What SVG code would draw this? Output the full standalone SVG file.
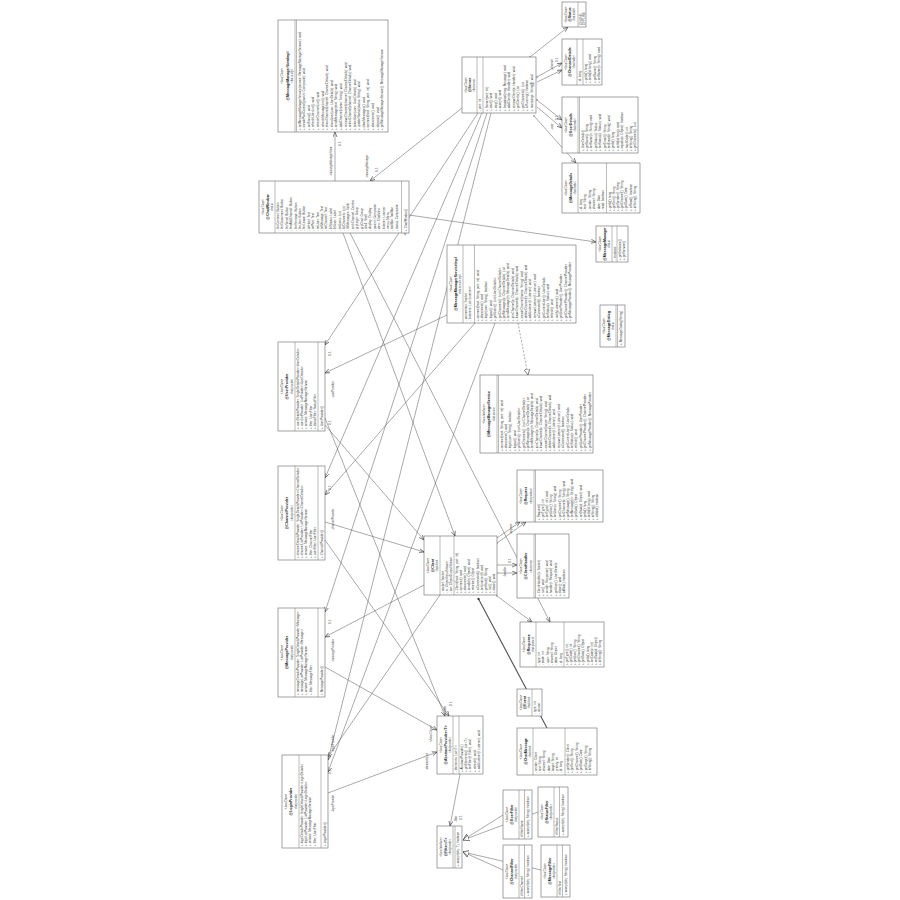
<svg xmlns="http://www.w3.org/2000/svg" width="900" height="900" viewBox="0 0 900 900" font-family="'Liberation Sans', Arial, sans-serif">
<style>
.box{fill:#fff;stroke:#666;stroke-width:0.6}
.sep{stroke:#777;stroke-width:0.5}
text{font-family:"Liberation Sans",Arial,sans-serif;fill:#444}
.st{font-size:2.6px;text-anchor:middle}
.nm{font-size:3.6px;font-weight:bold;text-anchor:middle;fill:#222}
.ln{font-size:3.1px}
.lb{font-size:2.8px;fill:#444}
.c path{stroke:#555;stroke-width:0.5;fill:none}
.dash{stroke-dasharray:2 1.5}
.thick{stroke-width:1.1 !important}
</style>
<defs>
<marker id="arr" viewBox="0 0 10 10" refX="10" refY="5" markerWidth="5" markerHeight="5" markerUnits="userSpaceOnUse" orient="auto"><path d="M0,1 L10,5 L0,9" fill="none" stroke="#333" stroke-width="1.2"/></marker>
<marker id="tri" viewBox="0 0 10 10" refX="10" refY="5" markerWidth="6" markerHeight="6" markerUnits="userSpaceOnUse" orient="auto"><path d="M0,0 L10,5 L0,10 Z" fill="#fff" stroke="#333" stroke-width="1"/></marker>
<marker id="dot" viewBox="0 0 10 10" refX="5" refY="5" markerWidth="2.5" markerHeight="2.5" markerUnits="userSpaceOnUse" orient="auto"><circle cx="5" cy="5" r="4" fill="#fff" stroke="#333" stroke-width="1.4"/></marker>
<marker id="dia" viewBox="0 0 10 10" refX="1" refY="5" markerWidth="3" markerHeight="3" markerUnits="userSpaceOnUse" orient="auto"><path d="M1,5 L5,1.5 L9,5 L5,8.5 Z" fill="#333" stroke="#333"/></marker>
</defs>
<rect width="900" height="900" fill="#fff"/>

<g id="connectors" class="c">
<path d="M335,181 L335,132" marker-end="url(#arr)"/>
<path d="M462,108 L370,181" marker-end="url(#arr)"/>
<path d="M409,215 L596,242" marker-end="url(#arr)"/>
<path d="M478,113 L325,345" marker-end="url(#arr)"/>
<path d="M447,315 L325,373" marker-end="url(#arr)"/>
<path d="M482,113 L325,478" marker-end="url(#arr)"/>
<path d="M475,323 L325,495" marker-end="url(#arr)"/>
<path d="M487,113 L325,612" marker-end="url(#arr)"/>
<path d="M491,113 L328,760" marker-end="url(#arr)"/>
<path d="M495,323 L328,772" marker-end="url(#arr)"/>
<path class="dash" d="M518,323 L528,375" marker-end="url(#tri)"/>
<path d="M343,233 L455,536" marker-end="url(#arr)"/>
<path d="M350,233 L550,622" marker-end="url(#arr)"/>
<path d="M325,418 L445,716" marker-end="url(#arr)"/>
<path d="M325,425 L424,540" marker-end="url(#arr)"/>
<path d="M325,522 L424,552" marker-end="url(#arr)"/>
<path d="M424,585 L325,637" marker-end="url(#arr)"/>
<path d="M325,667 L437,730" marker-end="url(#arr)"/>
<path d="M440,595 L328,757" marker-end="url(#arr)"/>
<path d="M328,793 L437,752" marker-end="url(#arr)"/>
<path d="M325,540 L449,716" marker-end="url(#arr)"/>
<path d="M537,77 L562,63" marker-start="url(#dot)" marker-end="url(#arr)"/>
<path d="M537,82 L562,70" marker-end="url(#arr)"/>
<path d="M537,100 L562,120" marker-start="url(#dot)" marker-end="url(#arr)"/>
<path d="M537,107 L562,128" marker-end="url(#arr)"/>
<path d="M530,57 L568,27" marker-start="url(#dot)" marker-end="url(#arr)"/>
<path d="M534,116 L576,163" marker-start="url(#dot)" marker-end="url(#arr)"/>
<path d="M497,538 L520,522" marker-end="url(#arr)"/>
<path d="M497,543 L526,522" marker-start="url(#dot)" marker-end="url(#arr)"/>
<path d="M497,565 L517,565" marker-end="url(#arr)"/>
<path d="M497,573 L517,573" marker-start="url(#dot)" marker-end="url(#arr)"/>
<path d="M497,596 L532,622" marker-start="url(#dot)" marker-end="url(#arr)"/>
<path class="thick" d="M478,598 L547,728" marker-start="url(#dia)"/>
<path d="M460,774 L450,826" marker-end="url(#arr)"/>
<path d="M503,815 L463,840" marker-end="url(#tri)"/>
<path d="M538,812 L463,840" marker-end="url(#tri)"/>
<path d="M503,870 L463,852" marker-end="url(#tri)"/>
<path d="M541,870 L463,852" marker-end="url(#tri)"/>
</g>

<g id="labels">
<text class="lb" transform="translate(332,176) rotate(-90)">-messageManagerView</text>
<text class="lb" transform="translate(341,146) rotate(-90)">0..1</text>
<text class="lb" transform="translate(368,178) rotate(-90)">-messageManager</text>
<text class="lb" transform="translate(378,172) rotate(-90)">0..1</text>
<text class="lb" transform="translate(406,236) rotate(-90)">-service</text>
<text class="lb" transform="translate(331,356) rotate(-90)">0..1</text>
<text class="lb" transform="translate(334,398) rotate(-90)">-userProvider</text>
<text class="lb" transform="translate(331,425) rotate(-90)">0..1</text>
<text class="lb" transform="translate(331,490) rotate(-90)">0..1</text>
<text class="lb" transform="translate(334,530) rotate(-90)">-channelProvider</text>
<text class="lb" transform="translate(331,624) rotate(-90)">0..1</text>
<text class="lb" transform="translate(334,662) rotate(-90)">-messageProvider</text>
<text class="lb" transform="translate(334,752) rotate(-90)">-loginProvider</text>
<text class="lb" transform="translate(331,774) rotate(-90)">0..1</text>
<text class="lb" transform="translate(334,812) rotate(-90)">-loginProvider</text>
<text class="lb" transform="translate(432,742) rotate(-90)">«Java Class»</text>
<text class="lb" transform="translate(428,770) rotate(-90)">-elementsList</text>
<text class="lb" transform="translate(446,712) rotate(-90)">-filter</text>
<text class="lb" transform="translate(452,706) rotate(-90)">0..1</text>
<text class="lb" transform="translate(457,822) rotate(-90)">-filter</text>
<text class="lb" transform="translate(462,820) rotate(-90)">0..1</text>
<text class="lb" transform="translate(553,70) rotate(-90)">-channel</text>
<text class="lb" transform="translate(558,62) rotate(-90)">0..1</text>
<text class="lb" transform="translate(553,130) rotate(-90)">-user</text>
<text class="lb" transform="translate(558,120) rotate(-90)">0..1</text>
<text class="lb" transform="translate(512,534) rotate(-90)">-request</text>
<text class="lb" transform="translate(506,577) rotate(-90)">-handler</text>
<text class="lb" transform="translate(511,563) rotate(-90)">0..1</text>
</g>

<g id="n1" transform="translate(278,132) rotate(-90)">
<rect class="box" width="112" height="110"/>
<line class="sep" x1="0" y1="17" x2="112" y2="17"/><line class="sep" x1="0" y1="18.5" x2="112" y2="18.5"/>
<text class="st" x="56" y="5">«Java Class»</text><text class="nm" x="56" y="10.5">@MessageManagerViewImpl</text><text class="st" x="56" y="14.5">chat.ui.impl</text>
<text class="ln" x="2" y="22.5"><tspan x="2">+ setMessageManagerService(service: MessageManagerService): void</tspan><tspan x="2" dy="4.6">+ createPartControl(parent: Composite): void</tspan><tspan x="2" dy="4.6">+ setFocus(): void</tspan><tspan x="2" dy="4.6">+ refreshUserList(): void</tspan><tspan x="2" dy="4.6">+ refreshChannelList(): void</tspan><tspan x="2" dy="4.6">+ refreshMessageList(): void</tspan><tspan x="2" dy="4.6">+ showChannel(channel: ChannelDetails): void</tspan><tspan x="2" dy="4.6">+ showUser(user: UserDetails): void</tspan><tspan x="2" dy="4.6">+ sendMessage(text: String): void</tspan><tspan x="2" dy="4.6">+ addChannel(name: String): void</tspan><tspan x="2" dy="4.6">+ removeChannel(channel: ChannelDetails): void</tspan><tspan x="2" dy="4.6">+ selectChannel(channel: ChannelDetails): void</tspan><tspan x="2" dy="4.6">+ selectUser(user: UserDetails): void</tspan><tspan x="2" dy="4.6">+ updateStatus(status: String): void</tspan><tspan x="2" dy="4.6">+ clearMessages(): void</tspan><tspan x="2" dy="4.6">+ connect(host: String, port: int): void</tspan><tspan x="2" dy="4.6">+ disconnect(): void</tspan><tspan x="2" dy="4.6">+ dispose(): void</tspan><tspan x="2" dy="4.6">+ getMessageManagerService(): MessageManagerService</tspan></text>
</g>

<g id="n2" transform="translate(259,233) rotate(-90)">
<rect class="box" width="52" height="150"/>
<line class="sep" x1="0" y1="16" x2="52" y2="16"/><line class="sep" x1="0" y1="142.5" x2="52" y2="142.5"/>
<text class="st" x="26" y="4.5">«Java Class»</text><text class="nm" x="26" y="9.5">@ChatWindow</text><text class="st" x="26" y="13.5">chat.ui</text>
<text class="ln" x="2" y="20"><tspan x="2">- btnConnect: Button</tspan><tspan x="2" dy="4.4">- btnDisconnect: Button</tspan><tspan x="2" dy="4.4">- btnSend: Button</tspan><tspan x="2" dy="4.4">- btnAddChannel: Button</tspan><tspan x="2" dy="4.4">- btnRemove: Button</tspan><tspan x="2" dy="4.4">- btnJoin: Button</tspan><tspan x="2" dy="4.4">- btnLeave: Button</tspan><tspan x="2" dy="4.4">- txtHost: Text</tspan><tspan x="2" dy="4.4">- txtPort: Text</tspan><tspan x="2" dy="4.4">- txtUser: Text</tspan><tspan x="2" dy="4.4">- txtMessage: Text</tspan><tspan x="2" dy="4.4">- txtChannel: Text</tspan><tspan x="2" dy="4.4">- lblStatus: Label</tspan><tspan x="2" dy="4.4">- lblUser: Label</tspan><tspan x="2" dy="4.4">- lstUsers: List</tspan><tspan x="2" dy="4.4">- lstChannels: List</tspan><tspan x="2" dy="4.4">- tblMessages: Table</tspan><tspan x="2" dy="4.4">- cmbChannel: Combo</tspan><tspan x="2" dy="4.4">- grpLogin: Group</tspan><tspan x="2" dy="4.4">- grpChat: Group</tspan><tspan x="2" dy="4.4">- shell: Shell</tspan><tspan x="2" dy="4.4">- display: Display</tspan><tspan x="2" dy="4.4">- parent: Composite</tspan><tspan x="2" dy="4.4">- view: ChatView</tspan><tspan x="2" dy="4.4">- listener: Listener</tspan><tspan x="2" dy="4.4">- menu: Menu</tspan><tspan x="2" dy="4.4">- toolBar: ToolBar</tspan><tspan x="2" dy="4.4">- status: Composite</tspan></text>
<text class="ln" x="2" y="147.5">+ ChatWindow()</text>
</g>

<g id="n3" transform="translate(462,113) rotate(-90)">
<rect class="box" width="56" height="74"/>
<line class="sep" x1="0" y1="15" x2="56" y2="15"/><line class="sep" x1="0" y1="21" x2="56" y2="21"/>
<text class="st" x="28" y="4.5">«Java Class»</text><text class="nm" x="28" y="9">@Server</text><text class="st" x="28" y="13">chat.server</text>
<text class="ln" x="2" y="19.3">- port: int</text>
<text class="ln" x="2" y="25.5"><tspan x="2">+ Server(port: int)</tspan><tspan x="2" dy="4.5">+ start(): void</tspan><tspan x="2" dy="4.5">+ stop(): void</tspan><tspan x="2" dy="4.5">+ accept(): void</tspan><tspan x="2" dy="4.5">+ broadcast(msg: Message): void</tspan><tspan x="2" dy="4.5">+ addClient(c: Handler): void</tspan><tspan x="2" dy="4.5">+ removeClient(c: Handler): void</tspan><tspan x="2" dy="4.5">+ getClients(): List</tspan><tspan x="2" dy="4.5">+ getChannels(): List</tspan><tspan x="2" dy="4.5">+ isRunning(): boolean</tspan><tspan x="2" dy="4.5">+ main(args: String[]): void</tspan></text>
</g>

<g id="n4" transform="translate(562,27) rotate(-90)">
<rect class="box" width="25" height="24"/>
<line class="sep" x1="0" y1="16" x2="25" y2="16"/>
<text class="st" x="12.5" y="4.5">«Java Enum»</text><text class="nm" x="12.5" y="9">@Status</text><text class="st" x="12.5" y="13">chat.model</text>
<text class="ln" x="2" y="19.5"><tspan x="2">ONLINE</tspan><tspan x="2" dy="3.4">OFFLINE</tspan></text>
</g>

<g id="n5" transform="translate(562,85) rotate(-90)">
<rect class="box" width="46" height="40"/>
<line class="sep" x1="0" y1="15" x2="46" y2="15"/><line class="sep" x1="0" y1="21" x2="46" y2="21"/>
<text class="st" x="23" y="4.5">«Java Class»</text><text class="nm" x="23" y="9">@ChannelDetails</text><text class="st" x="23" y="13">chat.model</text>
<text class="ln" x="2" y="19.2">- id: long</text>
<text class="ln" x="2" y="25"><tspan x="2">+ getId(): long</tspan><tspan x="2" dy="4.3">+ setId(id: long): void</tspan><tspan x="2" dy="4.3">+ getName(): String</tspan><tspan x="2" dy="4.3">+ setName(n: String): void</tspan></text>
</g>

<g id="n6" transform="translate(562,153) rotate(-90)">
<rect class="box" width="56" height="76"/>
<line class="sep" x1="0" y1="16" x2="56" y2="16"/><line class="sep" x1="0" y1="17.5" x2="56" y2="17.5"/>
<text class="st" x="28" y="4.5">«Java Class»</text><text class="nm" x="28" y="9.5">@UserDetails</text><text class="st" x="28" y="13.5">chat.model</text>
<text class="ln" x="2" y="21.5"><tspan x="2">+ UserDetails()</tspan><tspan x="2" dy="4.4">+ getName(): String</tspan><tspan x="2" dy="4.4">+ setName(n: String): void</tspan><tspan x="2" dy="4.4">+ getStatus(): Status</tspan><tspan x="2" dy="4.4">+ setStatus(s: Status): void</tspan><tspan x="2" dy="4.4">+ getEmail(): String</tspan><tspan x="2" dy="4.4">+ setEmail(e: String): void</tspan><tspan x="2" dy="4.4">+ getId(): long</tspan><tspan x="2" dy="4.4">+ setId(id: long): void</tspan><tspan x="2" dy="4.4">+ equals(o: Object): boolean</tspan><tspan x="2" dy="4.4">+ hashCode(): int</tspan><tspan x="2" dy="4.4">+ toString(): String</tspan><tspan x="2" dy="4.4">+ getChannels(): List</tspan></text>
</g>

<g id="n7" transform="translate(562,213) rotate(-90)">
<rect class="box" width="50" height="78"/>
<line class="sep" x1="0" y1="16" x2="50" y2="16"/><line class="sep" x1="0" y1="44.5" x2="50" y2="44.5"/>
<text class="st" x="25" y="4.5">«Java Class»</text><text class="nm" x="25" y="9.5">@MessageDetails</text><text class="st" x="25" y="13.5">chat.model</text>
<text class="ln" x="2" y="20"><tspan x="2">- id: long</tspan><tspan x="2" dy="4.4">- text: String</tspan><tspan x="2" dy="4.4">- sender: String</tspan><tspan x="2" dy="4.4">- channel: String</tspan><tspan x="2" dy="4.4">- date: Date</tspan><tspan x="2" dy="4.4">- read: boolean</tspan></text>
<text class="ln" x="2" y="48.5"><tspan x="2">+ getId(): long</tspan><tspan x="2" dy="4.2">+ getText(): String</tspan><tspan x="2" dy="4.2">+ getSender(): String</tspan><tspan x="2" dy="4.2">+ getChannel(): String</tspan><tspan x="2" dy="4.2">+ getDate(): Date</tspan><tspan x="2" dy="4.2">+ isRead(): boolean</tspan><tspan x="2" dy="4.2">+ toString(): String</tspan></text>
</g>

<g id="n8" transform="translate(596,262) rotate(-90)">
<rect class="box" width="36" height="32"/>
<line class="sep" x1="0" y1="16" x2="36" y2="16"/><line class="sep" x1="0" y1="21" x2="36" y2="21"/>
<text class="st" x="18" y="4.5">«Java Class»</text><text class="nm" x="18" y="9.5">@MessageManager</text><text class="st" x="18" y="13.5">chat.ui</text>
<text class="ln" x="2" y="19.5">- instance</text>
<text class="ln" x="2" y="25"><tspan x="2">+ getInstance()</tspan><tspan x="2" dy="4">+ getService()</tspan></text>
</g>

<g id="n9" transform="translate(600,347) rotate(-90)">
<rect class="box" width="42" height="25"/>
<line class="sep" x1="0" y1="16" x2="42" y2="16"/><line class="sep" x1="0" y1="17.5" x2="42" y2="17.5"/>
<text class="st" x="21" y="4.5">«Java Class»</text><text class="nm" x="21" y="9.5">@MessageDialog</text><text class="st" x="21" y="13.5">chat.ui</text>
<text class="ln" x="2" y="22">+ MessageDialog(String)</text>
</g>

<g id="n10" transform="translate(447,323) rotate(-90)">
<rect class="box" width="78" height="129"/>
<line class="sep" x1="0" y1="16" x2="78" y2="16"/><line class="sep" x1="0" y1="27.5" x2="78" y2="27.5"/>
<text class="st" x="39" y="4.5">«Java Class»</text><text class="nm" x="39" y="9.5">@MessageManagerServiceImpl</text><text class="st" x="39" y="13.5">chat.service.impl</text>
<text class="ln" x="2" y="20"><tspan x="2">- connection: Socket</tspan><tspan x="2" dy="4.4">- listeners: List&lt;Listener&gt;</tspan></text>
<text class="ln" x="2" y="31.5"><tspan x="2">+ connect(host: String, port: int): void</tspan><tspan x="2" dy="4.4">+ disconnect(): void</tspan><tspan x="2" dy="4.4">+ login(user: String): boolean</tspan><tspan x="2" dy="4.4">+ logout(): void</tspan><tspan x="2" dy="4.4">+ getUsers(): List&lt;UserDetails&gt;</tspan><tspan x="2" dy="4.4">+ getChannels(): List&lt;ChannelDetails&gt;</tspan><tspan x="2" dy="4.4">+ getMessages(c: ChannelDetails): List</tspan><tspan x="2" dy="4.4">+ sendMessage(m: MessageDetails): void</tspan><tspan x="2" dy="4.4">+ joinChannel(c: ChannelDetails): void</tspan><tspan x="2" dy="4.4">+ leaveChannel(c: ChannelDetails): void</tspan><tspan x="2" dy="4.4">+ createChannel(name: String): void</tspan><tspan x="2" dy="4.4">+ deleteChannel(c: ChannelDetails): void</tspan><tspan x="2" dy="4.4">+ addListener(l: Listener): void</tspan><tspan x="2" dy="4.4">+ removeListener(l: Listener): void</tspan><tspan x="2" dy="4.4">+ isConnected(): boolean</tspan><tspan x="2" dy="4.4">+ getCurrentUser(): UserDetails</tspan><tspan x="2" dy="4.4">+ setStatus(s: Status): void</tspan><tspan x="2" dy="4.4">+ refresh(): void</tspan><tspan x="2" dy="4.4">+ notifyListeners(): void</tspan><tspan x="2" dy="4.4">+ getUserProvider(): UserProvider</tspan><tspan x="2" dy="4.4">+ getChannelProvider(): ChannelProvider</tspan><tspan x="2" dy="4.4">+ getMessageProvider(): MessageProvider</tspan></text>
</g>

<g id="n11" transform="translate(480,453) rotate(-90)">
<rect class="box" width="78" height="113"/>
<line class="sep" x1="0" y1="17" x2="78" y2="17"/><line class="sep" x1="0" y1="18.5" x2="78" y2="18.5"/>
<text class="st" x="39" y="4.5">«Java Interface»</text><text class="nm" x="39" y="10">@MessageManagerService</text><text class="st" x="39" y="14.5">chat.service</text>
<text class="ln" x="2" y="22.5"><tspan x="2">+ connect(host: String, port: int): void</tspan><tspan x="2" dy="4.4">+ disconnect(): void</tspan><tspan x="2" dy="4.4">+ login(user: String): boolean</tspan><tspan x="2" dy="4.4">+ logout(): void</tspan><tspan x="2" dy="4.4">+ getUsers(): List&lt;UserDetails&gt;</tspan><tspan x="2" dy="4.4">+ getChannels(): List&lt;ChannelDetails&gt;</tspan><tspan x="2" dy="4.4">+ getMessages(c: ChannelDetails): List</tspan><tspan x="2" dy="4.4">+ sendMessage(m: MessageDetails): void</tspan><tspan x="2" dy="4.4">+ joinChannel(c: ChannelDetails): void</tspan><tspan x="2" dy="4.4">+ leaveChannel(c: ChannelDetails): void</tspan><tspan x="2" dy="4.4">+ createChannel(name: String): void</tspan><tspan x="2" dy="4.4">+ deleteChannel(c: ChannelDetails): void</tspan><tspan x="2" dy="4.4">+ addListener(l: Listener): void</tspan><tspan x="2" dy="4.4">+ removeListener(l: Listener): void</tspan><tspan x="2" dy="4.4">+ isConnected(): boolean</tspan><tspan x="2" dy="4.4">+ getCurrentUser(): UserDetails</tspan><tspan x="2" dy="4.4">+ setStatus(s: Status): void</tspan><tspan x="2" dy="4.4">+ refresh(): void</tspan><tspan x="2" dy="4.4">+ getUserProvider(): UserProvider</tspan><tspan x="2" dy="4.4">+ getChannelProvider(): ChannelProvider</tspan><tspan x="2" dy="4.4">+ getMessageProvider(): MessageProvider</tspan></text>
</g>

<g id="n12" transform="translate(424,595) rotate(-90)">
<rect class="box" width="59" height="73"/>
<line class="sep" x1="0" y1="16" x2="59" y2="16"/><line class="sep" x1="0" y1="30" x2="59" y2="30"/>
<text class="st" x="29.5" y="4.5">«Java Class»</text><text class="nm" x="29.5" y="9.5">@Client</text><text class="st" x="29.5" y="13.5">chat.client</text>
<text class="ln" x="2" y="20"><tspan x="2">- socket: Socket</tspan><tspan x="2" dy="4.2">- in: ObjectInputStream</tspan><tspan x="2" dy="4.2">- out: ObjectOutputStream</tspan></text>
<text class="ln" x="2" y="34"><tspan x="2">+ Client(host: String, port: int)</tspan><tspan x="2" dy="4.1">+ connect(): void</tspan><tspan x="2" dy="4.1">+ disconnect(): void</tspan><tspan x="2" dy="4.1">+ send(obj: Object): void</tspan><tspan x="2" dy="4.1">+ receive(): Object</tspan><tspan x="2" dy="4.1">+ isConnected(): boolean</tspan><tspan x="2" dy="4.1">+ setListener(l): void</tspan><tspan x="2" dy="4.1">+ getHost(): String</tspan><tspan x="2" dy="4.1">+ run(): void</tspan><tspan x="2" dy="4.1">+ close(): void</tspan></text>
</g>

<g id="n13" transform="translate(517,522) rotate(-90)">
<rect class="box" width="52" height="86"/>
<line class="sep" x1="0" y1="17" x2="52" y2="17"/><line class="sep" x1="0" y1="18.5" x2="52" y2="18.5"/>
<text class="st" x="26" y="4.5">«Java Class»</text><text class="nm" x="26" y="10">@Request</text><text class="st" x="26" y="14.5">chat.protocol</text>
<text class="ln" x="2" y="22.5"><tspan x="2">+ Request()</tspan><tspan x="2" dy="4.2">+ getType(): int</tspan><tspan x="2" dy="4.2">+ setType(t: int): void</tspan><tspan x="2" dy="4.2">+ getUser(): String</tspan><tspan x="2" dy="4.2">+ setUser(u: String): void</tspan><tspan x="2" dy="4.2">+ getChannel(): String</tspan><tspan x="2" dy="4.2">+ setChannel(c: String): void</tspan><tspan x="2" dy="4.2">+ getMessage(): String</tspan><tspan x="2" dy="4.2">+ setMessage(m: String): void</tspan><tspan x="2" dy="4.2">+ getData(): Object</tspan><tspan x="2" dy="4.2">+ setData(d: Object): void</tspan><tspan x="2" dy="4.2">+ getId(): long</tspan><tspan x="2" dy="4.2">+ setId(id: long): void</tspan><tspan x="2" dy="4.2">+ toString(): String</tspan><tspan x="2" dy="4.2">+ isValid(): boolean</tspan></text>
</g>

<g id="n14" transform="translate(517,598) rotate(-90)">
<rect class="box" width="64" height="52"/>
<line class="sep" x1="0" y1="17" x2="64" y2="17"/><line class="sep" x1="0" y1="18.5" x2="64" y2="18.5"/>
<text class="st" x="32" y="4.5">«Java Class»</text><text class="nm" x="32" y="10">@ClientHandler</text><text class="st" x="32" y="14.5">chat.server</text>
<text class="ln" x="2" y="22.5"><tspan x="2">+ ClientHandler(s: Socket)</tspan><tspan x="2" dy="4.3">+ run(): void</tspan><tspan x="2" dy="4.3">+ send(r: Response): void</tspan><tspan x="2" dy="4.3">+ handle(r: Request): void</tspan><tspan x="2" dy="4.3">+ getUser(): UserDetails</tspan><tspan x="2" dy="4.3">+ close(): void</tspan><tspan x="2" dy="4.3">+ isAlive(): boolean</tspan></text>
</g>

<g id="n15" transform="translate(520,667) rotate(-90)">
<rect class="box" width="45" height="84"/>
<line class="sep" x1="0" y1="16" x2="45" y2="16"/><line class="sep" x1="0" y1="44" x2="45" y2="44"/>
<text class="st" x="22.5" y="4.5">«Java Class»</text><text class="nm" x="22.5" y="9.5">@Response</text><text class="st" x="22.5" y="13.5">chat.protocol</text>
<text class="ln" x="2" y="20"><tspan x="2">- type: int</tspan><tspan x="2" dy="4.3">- code: int</tspan><tspan x="2" dy="4.3">- user: String</tspan><tspan x="2" dy="4.3">- channel: String</tspan><tspan x="2" dy="4.3">- data: Object</tspan><tspan x="2" dy="4.3">- id: long</tspan></text>
<text class="ln" x="2" y="48"><tspan x="2">+ getType(): int</tspan><tspan x="2" dy="4.1">+ getCode(): int</tspan><tspan x="2" dy="4.1">+ getUser(): String</tspan><tspan x="2" dy="4.1">+ getChannel(): String</tspan><tspan x="2" dy="4.1">+ getData(): Object</tspan><tspan x="2" dy="4.1">+ getId(): long</tspan><tspan x="2" dy="4.1">+ setCode(c: int)</tspan><tspan x="2" dy="4.1">+ setData(d: Object)</tspan><tspan x="2" dy="4.1">+ toString(): String</tspan></text>
</g>

<g id="n16" transform="translate(517,716) rotate(-90)">
<rect class="box" width="27" height="25"/>
<line class="sep" x1="0" y1="15" x2="27" y2="15"/>
<text class="st" x="13.5" y="4.5">«Java Class»</text><text class="nm" x="13.5" y="9">@Event</text><text class="st" x="13.5" y="13">chat.client</text>
<text class="ln" x="2" y="19"><tspan x="2">- type: int</tspan><tspan x="2" dy="4">- source</tspan></text>
</g>

<g id="n17" transform="translate(517,775) rotate(-90)">
<rect class="box" width="47" height="80"/>
<line class="sep" x1="0" y1="16" x2="47" y2="16"/><line class="sep" x1="0" y1="48" x2="47" y2="48"/>
<text class="st" x="23.5" y="4.5">«Java Class»</text><text class="nm" x="23.5" y="9.5">@ChatMessage</text><text class="st" x="23.5" y="13.5">chat.client</text>
<text class="ln" x="2" y="20"><tspan x="2">- sender: Client</tspan><tspan x="2" dy="4.2">- text: String</tspan><tspan x="2" dy="4.2">- channel: String</tspan><tspan x="2" dy="4.2">- date: Date</tspan><tspan x="2" dy="4.2">- target: String</tspan><tspan x="2" dy="4.2">- priority: int</tspan><tspan x="2" dy="4.2">- id: long</tspan></text>
<text class="ln" x="2" y="52"><tspan x="2">+ getSender(): Client</tspan><tspan x="2" dy="4.4">+ getText(): String</tspan><tspan x="2" dy="4.4">+ getChannel(): String</tspan><tspan x="2" dy="4.4">+ getDate(): Date</tspan><tspan x="2" dy="4.4">+ getTarget(): String</tspan><tspan x="2" dy="4.4">+ toString(): String</tspan></text>
</g>

<g id="n18" transform="translate(437,774) rotate(-90)">
<rect class="box" width="58" height="46"/>
<line class="sep" x1="0" y1="16" x2="58" y2="16"/><line class="sep" x1="0" y1="22" x2="58" y2="22"/>
<text class="st" x="29" y="4.5">«Java Class»</text><text class="nm" x="29" y="9.5">@AbstractProvider&lt;T&gt;</text><text class="st" x="29" y="13.5">chat.provider</text>
<text class="ln" x="2" y="20">- elements: List&lt;T&gt;</text>
<text class="ln" x="2" y="26"><tspan x="2">+ AbstractProvider()</tspan><tspan x="2" dy="4.2">+ getElements(): List&lt;T&gt;</tspan><tspan x="2" dy="4.2">+ setFilter(f: Filter): void</tspan><tspan x="2" dy="4.2">+ refresh(): void</tspan><tspan x="2" dy="4.2">+ addListener(l: Listener): void</tspan></text>
</g>

<g id="n19" transform="translate(437,868) rotate(-90)">
<rect class="box" width="42" height="25"/>
<line class="sep" x1="0" y1="16" x2="42" y2="16"/><line class="sep" x1="0" y1="18" x2="42" y2="18"/>
<text class="st" x="21" y="4.5">«Java Interface»</text><text class="nm" x="21" y="9.5">@Filter&lt;T&gt;</text><text class="st" x="21" y="13.5">chat.provider</text>
<text class="ln" x="2" y="22.3">+ accept(obj: T): boolean</text>
</g>

<g id="n20" transform="translate(503,839) rotate(-90)">
<rect class="box" width="49" height="29"/>
<line class="sep" x1="0" y1="16" x2="49" y2="16"/><line class="sep" x1="0" y1="21.5" x2="49" y2="21.5"/>
<text class="st" x="24.5" y="4.5">«Java Class»</text><text class="nm" x="24.5" y="9.5">@UserFilter</text><text class="st" x="24.5" y="13.5">chat.provider</text>
<text class="ln" x="2" y="20"># filterName</text>
<text class="ln" x="2" y="26">+ accept(obj: String): boolean</text>
</g>

<g id="n21" transform="translate(538,837) rotate(-90)">
<rect class="box" width="50" height="30"/>
<line class="sep" x1="0" y1="16" x2="50" y2="16"/><line class="sep" x1="0" y1="21.5" x2="50" y2="21.5"/>
<text class="st" x="25" y="4.5">«Java Class»</text><text class="nm" x="25" y="9.5">@StatusFilter</text><text class="st" x="25" y="13.5">chat.provider</text>
<text class="ln" x="2" y="20"># filterStatus</text>
<text class="ln" x="2" y="26">+ accept(obj: String): boolean</text>
</g>

<g id="n22" transform="translate(503,898) rotate(-90)">
<rect class="box" width="53" height="29"/>
<line class="sep" x1="0" y1="16" x2="53" y2="16"/><line class="sep" x1="0" y1="21.5" x2="53" y2="21.5"/>
<text class="st" x="26.5" y="4.5">«Java Class»</text><text class="nm" x="26.5" y="9.5">@ChannelFilter</text><text class="st" x="26.5" y="13.5">chat.provider</text>
<text class="ln" x="2" y="20"># filterChannel</text>
<text class="ln" x="2" y="26">+ accept(obj: String): boolean</text>
</g>

<g id="n23" transform="translate(541,897) rotate(-90)">
<rect class="box" width="52" height="29"/>
<line class="sep" x1="0" y1="16" x2="52" y2="16"/><line class="sep" x1="0" y1="21.5" x2="52" y2="21.5"/>
<text class="st" x="26" y="4.5">«Java Class»</text><text class="nm" x="26" y="9.5">@MessageFilter</text><text class="st" x="26" y="13.5">chat.provider</text>
<text class="ln" x="2" y="20"># filterText</text>
<text class="ln" x="2" y="26">+ accept(obj: String): boolean</text>
</g>

<g id="n24" transform="translate(278,431) rotate(-90)">
<rect class="box" width="89" height="47"/>
<line class="sep" x1="0" y1="17" x2="89" y2="17"/><line class="sep" x1="0" y1="40" x2="89" y2="40"/>
<text class="st" x="44.5" y="4.5">«Java Class»</text><text class="nm" x="44.5" y="10">@UserProvider</text><text class="st" x="44.5" y="14.5">chat.provider</text>
<text class="ln" x="2" y="21"><tspan x="2">+ userDetailsProvider: SingleDetailsProvider&lt;UserDetails&gt;</tspan><tspan x="2" dy="4.2">+ userListProvider: ListProvider&lt;UserDetails&gt;</tspan><tspan x="2" dy="4.2">+ service: MessageManagerService</tspan><tspan x="2" dy="4.2">+ filter: UserFilter</tspan><tspan x="2" dy="4.2">+ statusFilter: StatusFilter</tspan></text>
<text class="ln" x="2" y="44.5">+ UserProvider()</text>
</g>

<g id="n25" transform="translate(278,560) rotate(-90)">
<rect class="box" width="94" height="47"/>
<line class="sep" x1="0" y1="17" x2="94" y2="17"/><line class="sep" x1="0" y1="40" x2="94" y2="40"/>
<text class="st" x="47" y="4.5">«Java Class»</text><text class="nm" x="47" y="10">@ChannelProvider</text><text class="st" x="47" y="14.5">chat.provider</text>
<text class="ln" x="2" y="21"><tspan x="2">+ channelDetailsProvider: SingleDetailsProvider&lt;ChannelDetails&gt;</tspan><tspan x="2" dy="4.2">+ channelListProvider: ListProvider&lt;ChannelDetails&gt;</tspan><tspan x="2" dy="4.2">+ service: MessageManagerService</tspan><tspan x="2" dy="4.2">+ filter: ChannelFilter</tspan><tspan x="2" dy="4.2">+ userFilter: UserFilter</tspan></text>
<text class="ln" x="2" y="44.5">+ ChannelProvider()</text>
</g>

<g id="n26" transform="translate(278,697) rotate(-90)">
<rect class="box" width="89" height="47"/>
<line class="sep" x1="0" y1="17" x2="89" y2="17"/><line class="sep" x1="0" y1="40" x2="89" y2="40"/>
<text class="st" x="44.5" y="4.5">«Java Class»</text><text class="nm" x="44.5" y="10">@MessageProvider</text><text class="st" x="44.5" y="14.5">chat.provider</text>
<text class="ln" x="2" y="21"><tspan x="2">+ messageDetailsProvider: SingleDetailsProvider&lt;Message&gt;</tspan><tspan x="2" dy="4.2">+ messageListProvider: ListProvider&lt;Message&gt;</tspan><tspan x="2" dy="4.2">+ service: MessageManagerService</tspan><tspan x="2" dy="4.2">+ filter: MessageFilter</tspan></text>
<text class="ln" x="2" y="44.5">+ MessageProvider()</text>
</g>

<g id="n27" transform="translate(282,848) rotate(-90)">
<rect class="box" width="93" height="46"/>
<line class="sep" x1="0" y1="17" x2="93" y2="17"/><line class="sep" x1="0" y1="39" x2="93" y2="39"/>
<text class="st" x="46.5" y="4.5">«Java Class»</text><text class="nm" x="46.5" y="10">@LoginProvider</text><text class="st" x="46.5" y="14.5">chat.provider</text>
<text class="ln" x="2" y="21"><tspan x="2">+ loginDetailsProvider: SingleDetailsProvider&lt;LoginDetails&gt;</tspan><tspan x="2" dy="4.2">+ loginListProvider: ListProvider&lt;LoginDetails&gt;</tspan><tspan x="2" dy="4.2">+ service: MessageManagerService</tspan><tspan x="2" dy="4.2">+ filter: UserFilter</tspan></text>
<text class="ln" x="2" y="43.5">+ LoginProvider()</text>
</g>
</svg>
